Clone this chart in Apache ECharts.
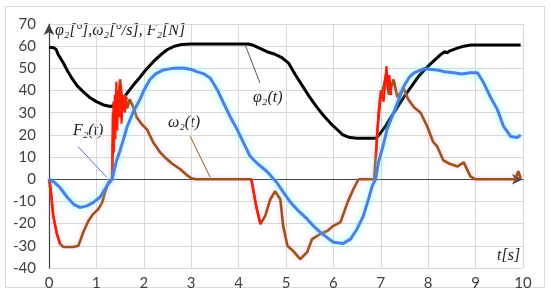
<!DOCTYPE html>
<html>
<head>
<meta charset="utf-8">
<script src="https://cdn.jsdelivr.net/npm/echarts@6/dist/echarts.min.js"></script>
<style>
  html, body { margin: 0; padding: 0; background: #fff; }
  #chart { width: 550px; height: 294px; }
</style>
</head>
<body>
<div id="chart"></div>
<script>
// time ticks and value ticks
var tTicks = [0, 1, 2, 3, 4, 5, 6, 7, 8, 9, 10];
var vTicks = [-40, -30, -20, -10, 0, 10, 20, 30, 40, 50, 60, 70];

// phi2(t) [deg], black
var phi2 = [
  [0, 59.5], [0.1, 59.3], [0.15, 58.5], [0.2, 56], [0.3, 52.5], [0.4, 48.5], [0.5, 45],
  [0.6, 42], [0.72, 39.5], [0.85, 37], [1.0, 35], [1.15, 33.5], [1.3, 32.8], [1.4, 33.5],
  [1.5, 35], [1.6, 37.5], [1.71, 40.5], [1.82, 43.5], [1.92, 46], [2.05, 49.5], [2.2, 53],
  [2.35, 56], [2.5, 58.5], [2.65, 60], [2.8, 60.8], [3.0, 61], [4.2, 61], [4.3, 60.5],
  [4.45, 59], [4.6, 57.5], [4.75, 56.5], [4.9, 55], [5.05, 52.5], [5.2, 47], [5.35, 42],
  [5.5, 37], [5.65, 32.5], [5.8, 28.5], [5.95, 25], [6.1, 22], [6.2, 20], [6.35, 18.8],
  [6.5, 18.5], [6.9, 18.5], [7.0, 21], [7.1, 24], [7.2, 27.5], [7.35, 32.5], [7.5, 37.5],
  [7.65, 42], [7.8, 46.5], [7.95, 50], [8.1, 53], [8.25, 56], [8.35, 57.5], [8.4, 57],
  [8.45, 57.8], [8.6, 59], [8.75, 60], [8.9, 60.5], [9.95, 60.5]
];

// F2(t) [N], blue
var f2 = [
  [0, 0.1], [0.12, -1.5], [0.23, -3.7], [0.38, -8], [0.52, -11.3], [0.65, -12.7], [0.8, -12],
  [0.93, -10.5], [1.08, -8], [1.22, -3], [1.33, 0], [1.42, 8], [1.5, 13], [1.57, 18],
  [1.65, 23.8], [1.77, 30], [1.92, 36], [2.0, 40], [2.13, 45], [2.25, 47.5], [2.41, 49.3],
  [2.6, 50], [2.83, 50.2], [3.0, 49.5], [3.12, 48.5], [3.27, 47.5], [3.4, 45.7], [3.55, 40.4],
  [3.68, 34.5], [3.82, 28.3], [3.97, 22.4], [4.1, 16.6], [4.24, 10.5], [4.4, 7], [4.6, 3.5],
  [4.8, -1.3], [4.95, -6], [5.09, -10.3], [5.25, -14], [5.45, -18], [5.6, -21.5],
  [5.72, -23.8], [5.87, -26.3], [6.0, -28.4], [6.2, -29], [6.36, -27], [6.5, -22.4],
  [6.63, -16.6], [6.74, -9], [6.82, -3], [6.89, 0], [6.95, 7.6], [7.06, 16], [7.13, 22.4],
  [7.27, 30], [7.38, 36], [7.48, 41.7], [7.6, 46], [7.7, 48], [7.9, 49.8], [8.19, 49.3],
  [8.35, 48.5], [8.54, 48], [8.7, 47.5], [8.89, 48], [9.04, 48], [9.17, 43.5], [9.31, 37.2],
  [9.46, 31.4], [9.59, 23.8], [9.74, 19.3], [9.88, 18.8], [9.95, 20]
];

// omega2(t) [deg/s], brown
var omega2 = [
  [0, 0], [0.05, -8], [0.09, -16.6], [0.16, -24], [0.23, -29], [0.3, -30.5], [0.51, -30.5],
  [0.62, -30], [0.72, -24], [0.83, -18.8], [0.93, -15.7], [1.04, -13.5], [1.12, -10.5],
  [1.18, -6], [1.25, -1.5], [1.33, 0], [1.35, 30], [1.39, 28], [1.42, 40], [1.45, 33],
  [1.5, 45], [1.55, 34], [1.6, 38], [1.65, 32], [1.7, 36], [1.77, 33], [1.85, 28],
  [1.95, 25], [2.07, 22.4], [2.2, 16.6], [2.35, 12], [2.49, 9], [2.6, 7], [2.77, 4.5],
  [2.9, 2], [3.0, 0.5], [3.1, 0], [4.27, 0], [4.37, -12], [4.46, -20.2], [4.56, -16.6],
  [4.67, -9], [4.77, -5.4], [4.88, -9], [4.94, -21], [5.03, -30], [5.15, -32.3], [5.3, -36],
  [5.45, -32.7], [5.55, -27], [5.72, -24.7], [5.87, -23.3], [6.0, -21], [6.15, -19.3],
  [6.3, -10.3], [6.42, -4.5], [6.53, 0], [6.86, 0], [6.93, 22.4], [7.0, 38], [7.06, 41.7],
  [7.12, 48], [7.17, 38], [7.27, 45], [7.35, 37], [7.48, 41], [7.58, 36], [7.7, 32.5],
  [7.84, 30], [7.98, 23.8], [8.1, 17], [8.19, 14.8], [8.32, 8.5], [8.45, 7], [8.62, 5.8],
  [8.75, 7.6], [8.89, 1.3], [9.0, 0], [9.84, 0], [9.9, 3.6], [9.95, 0.5]
];

// red parts of omega2
var omega2Red = [
  [0.02, 0], [0.09, -16.6], [0.16, -24], [0.23, -29], null,
  [1.34, 0], [1.36, 35], [1.37, 12], [1.39, 38], [1.4, 18], [1.42, 44], [1.44, 22],
  [1.46, 40], [1.48, 28], [1.5, 43], [1.53, 25], [1.56, 38], [1.6, 30], [1.64, 37], null,
  [4.27, 0], [4.37, -12], [4.46, -20.2], null,
  [6.9, 10], [6.95, 30], [7.0, 40], [7.06, 35], [7.12, 51], [7.15, 40], [7.18, 47], [7.22, 38]
];

var chart = echarts.init(document.getElementById('chart'), null, { renderer: 'canvas' });

var axisColor = '#404040';
var gridColor = '#d9d9d9';
var labelFont = 'Lato, "Open Sans", sans-serif';
var mathFont = '"Liberation Serif", "DejaVu Serif", serif';

var option = {
  animation: false,
  backgroundColor: '#fff',
  grid: { left: 49, right: 27, top: 24, bottom: 26 },
  xAxis: {
    type: 'value',
    min: tTicks[0],
    max: tTicks[tTicks.length - 1],
    interval: 1,
    axisLine: {
      onZero: true,
      symbol: ['none', 'arrow'],
      symbolSize: [8, 11],
      lineStyle: { color: axisColor, width: 1.2 }
    },
    axisTick: { show: false },
    axisLabel: { color: axisColor, fontSize: 15, fontFamily: labelFont, margin: 8 },
    splitLine: { lineStyle: { color: gridColor, width: 1 } }
  },
  yAxis: {
    type: 'value',
    min: vTicks[0],
    max: vTicks[vTicks.length - 1],
    interval: 10,
    axisLine: {
      show: true,
      onZero: false,
      symbol: ['none', 'arrow'],
      symbolSize: [8, 11],
      lineStyle: { color: axisColor, width: 1.2 }
    },
    axisTick: { show: false },
    axisLabel: { color: axisColor, fontSize: 15, fontFamily: labelFont, margin: 13 },
    splitLine: { lineStyle: { color: gridColor, width: 1 } }
  },
  series: [
    {
      name: 'phi2',
      type: 'line',
      data: phi2,
      showSymbol: false,
      lineStyle: { color: '#000', width: 3 },
      z: 3
    },
    {
      name: 'omega2',
      type: 'line',
      data: omega2,
      showSymbol: false,
      lineStyle: {
        color: '#9c5416', width: 2.6,
        shadowColor: 'rgba(255,120,220,0.45)', shadowBlur: 5
      },
      z: 4,
      markLine: {
        silent: true,
        symbol: 'none',
        label: { show: false },
        lineStyle: { color: '#9c5416', width: 1, type: 'solid' },
        data: [[{ coord: [2.98, 19.3] }, { coord: [3.4, 0.9] }]]
      }
    },
    {
      name: 'omega2Red',
      type: 'line',
      data: omega2Red,
      connectNulls: false,
      showSymbol: false,
      lineStyle: { color: '#ff1a00', width: 2.2 },
      z: 5
    },
    {
      name: 'F2',
      type: 'line',
      data: f2,
      showSymbol: false,
      lineStyle: {
        color: '#4f7fe6', width: 3,
        shadowColor: 'rgba(80,255,255,0.7)', shadowBlur: 6
      },
      z: 6,
      markLine: {
        silent: true,
        symbol: 'none',
        label: { show: false },
        lineStyle: { color: '#6a6ad8', width: 1, type: 'solid' },
        data: [[{ coord: [0.61, 14.8] }, { coord: [1.22, 0.9] }]]
      }
    },
    {
      name: 'phiLeader',
      type: 'line',
      data: [],
      markLine: {
        silent: true,
        symbol: 'none',
        label: { show: false },
        lineStyle: { color: '#555', width: 1, type: 'solid' },
        data: [[{ coord: [4.14, 60.5] }, { coord: [4.45, 43.5] }]]
      }
    }
  ],
  graphic: [
    {
      type: 'rect',
      shape: { x: 5.5, y: 6.5, width: 539, height: 281 },
      style: { fill: 'none', stroke: '#d9d9d9', lineWidth: 1 },
      silent: true
    },
    {
      type: 'text', left: 55, top: 23,
      style: { text: 'φ₂[°],ω₂[°/s], F₂[N]', font: 'italic 16px ' + mathFont, fill: '#222' }
    },
    {
      type: 'text', left: 253, top: 90,
      style: { text: 'φ₂(t)', font: 'italic 16px ' + mathFont, fill: '#222' }
    },
    {
      type: 'text', left: 168, top: 115,
      style: { text: 'ω₂(t)', font: 'italic 16px ' + mathFont, fill: '#222' }
    },
    {
      type: 'text', left: 73, top: 123,
      style: { text: 'F₂(t)', font: 'italic 16px ' + mathFont, fill: '#222' }
    },
    {
      type: 'text', left: 497, top: 248,
      style: { text: 't[s]', font: 'italic 16px ' + mathFont, fill: '#222' }
    }
  ]
};

chart.setOption(option);
</script>
</body>
</html>
